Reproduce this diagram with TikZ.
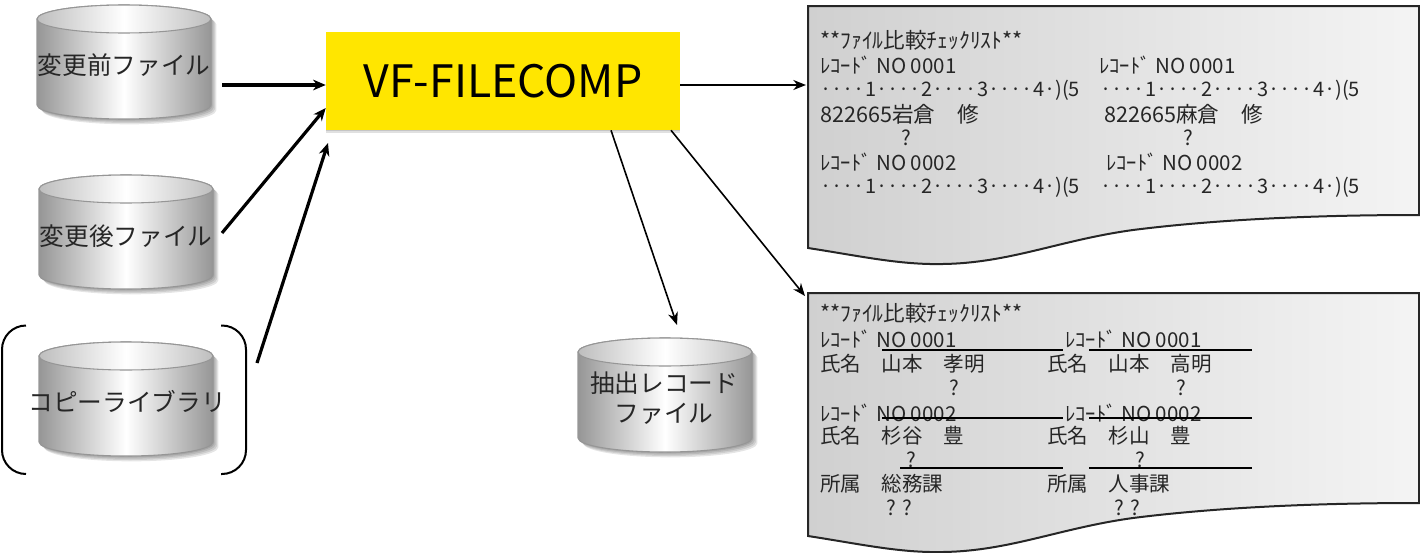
\documentclass[tikz,border=0pt]{standalone}
\usepackage{fontspec}
\setmainfont{Noto Sans CJK JP}
\usetikzlibrary{positioning,shadows,arrows.meta}
\definecolor{boxyellow}{RGB}{255,230,0}
\definecolor{dbdark}{RGB}{150,150,150}
\definecolor{dbtop}{RGB}{190,190,190}
\definecolor{paperdark}{RGB}{208,208,208}
\definecolor{paperlight}{RGB}{244,244,244}
\tikzset{%
  softshadow/.style={
    drop shadow={shadow xshift=0pt,shadow yshift=-#1,fill=black,opacity=0.12}
  },
  dbfile/.pic={
    \foreach \off in {1pt,2pt,3pt,4pt}
      \fill[black,opacity=0.10,xshift=\off,yshift=-\off]
        (-87,-43) -- (-87,43)
        arc[start angle=180,end angle=360,x radius=65.25pt,y radius=10.5pt]
        -- (87,-43)
        arc[start angle=0,end angle=180,x radius=65.25pt,y radius=10.5pt] -- cycle;
    \shade[left color=dbdark,right color=dbdark,middle color=white,draw=dbdark,line width=0.8pt]
      (-87,-43) -- (-87,43)
      arc[start angle=180,end angle=360,x radius=65.25pt,y radius=10.5pt]
      -- (87,-43)
      arc[start angle=0,end angle=180,x radius=65.25pt,y radius=10.5pt] -- cycle;
    \shade[left color=dbtop,right color=dbtop,middle color=white,draw=dbdark,line width=0.8pt]
      (0,-43) ellipse (65.25pt and 10.5pt);
  },
  dblabel/.style={
    align=center,
    inner sep=0pt,
    text=black!85,
    font=\fontsize{18.5pt}{23pt}\selectfont
  },
  listtext/.style={
    anchor=west,
    inner sep=0pt,
    text=black!85,
    font=\fontsize{15.4pt}{18pt}\selectfont
  },
  listwide/.style={
    listtext,
    font=\fontsize{16.2pt}{18pt}\selectfont
  },
  listscale/.style={
    listtext,
    font=\fontsize{15pt}{18pt}\selectfont
  },
  paper/.style={
    draw=black!85,
    line width=1.5pt,
    left color=paperdark,
    right color=paperlight
  },
  feedarrow/.style={-{Stealth[length=9.5pt,width=8pt,inset=3pt]},line width=2.4pt},
  outarrow/.style={-{Stealth[length=9.5pt,width=7.5pt,inset=3pt]},line width=1.2pt},
  bracket/.style={line width=1.5pt,rounded corners=18pt},
  underrule/.style={line width=1.2pt}
}

\begin{document}
\begin{tikzpicture}[x=0.75pt, y=-0.75pt]
\useasboundingbox (0,0) rectangle (1420,553);

% input and output files
\pic (dbbefore) at (124,62) {dbfile};
\pic (dbafter) at (126,232) {dbfile};
\pic (dbcopy) at (126,399) {dbfile};
\pic (dbextract) at (665,395) {dbfile};
\node[dblabel] (lbbefore) at (124,65) {変更前ファイル};
\node[dblabel] (lbafter) at (126,236) {変更後ファイル};
\node[dblabel] (lbcopy) at (127,401) {コピーライブラリ};
\node[dblabel] (lbextract) at (664,398) {抽出レコード\\ファイル};

% brackets round the copy library
\draw[bracket] (26,325.5) -- (2,325.5) -- (2,474) -- (26,474);
\draw[bracket] (221,325.5) -- (246,325.5) -- (246,474) -- (221,474);

% the program
\node[fill=boxyellow,minimum width=265.5pt,minimum height=73.5pt,inner sep=0pt,
  softshadow=1pt,softshadow=2pt,
  font=\fontsize{33.5pt}{36pt}\selectfont] (filecomp) at (503,81) {VF-FILECOMP};

% paper sheets
\draw[paper] (808,6) -- (1419,6) -- (1419,215)
  .. controls (1320,215) and (1220,219) .. (1133,230)
  .. controls (1060,240) and (1010,263) .. (943,264)
  .. controls (900,265) and (860,256) .. (808,248) -- cycle;
\draw[paper] (808,293) -- (1419,293) -- (1419,503)
  .. controls (1320,503) and (1220,507) .. (1133,518)
  .. controls (1060,528) and (1010,551) .. (943,552)
  .. controls (900,553) and (860,544) .. (808,536) -- cycle;

\coordinate (outbefore) at (222,85);
\coordinate (outafter) at (222,233);
\coordinate (outcopy) at (257,363);
\coordinate (incopy) at (328,143);
\coordinate (inextract) at (677,325);
\coordinate (insheetone) at (806,85);
\coordinate (insheettwo) at (805,296);

\draw[feedarrow] (outbefore) -- (outbefore -| filecomp.west);
\draw[feedarrow] (outafter) -- ([yshift=-20.25pt]filecomp.west);
\draw[feedarrow] (outcopy) -- (incopy);
\draw[outarrow] (filecomp.east |- insheetone) -- (insheetone);
\draw[outarrow] ([xshift=81pt]filecomp.south) -- (inextract);
\draw[outarrow] ([xshift=126pt]filecomp.south) -- (insheettwo);

% first list
\node[listwide] (atitle) at (820,40) {**ﾌｧｲﾙ比較ﾁｪｯｸﾘｽﾄ**};
\node[listtext] (arecl) at (820,65) {ﾚｺｰﾄﾞ NO 0001};
\node[listtext] (arecr) at (1099,65) {ﾚｺｰﾄﾞ NO 0001};
\node[listscale] (arulel) at (820,90) {····1····2····3····4·)(5};
\node[listscale] (aruler) at (1100,90) {····1····2····3····4·)(5};
\node[listwide] (adatal) at (820,114) {822665岩倉　修};
\node[listwide] (adatar) at (1104,114) {822665麻倉　修};
\node[listtext] (amarkl) at (901,138) {?};
\node[listtext] (amarkr) at (1183,138) {?};
\node[listtext] (brecl) at (820,162) {ﾚｺｰﾄﾞ NO 0002};
\node[listtext] (brecr) at (1106,162) {ﾚｺｰﾄﾞ NO 0002};
\node[listscale] (brulel) at (820,187) {····1····2····3····4·)(5};
\node[listscale] (bruler) at (1100,187) {····1····2····3····4·)(5};

% second list
\node[listwide] (ctitle) at (820,313) {**ﾌｧｲﾙ比較ﾁｪｯｸﾘｽﾄ**};
\node[listtext] (crecl) at (820,339) {ﾚｺｰﾄﾞ NO 0001};
\node[listtext] (crecr) at (1065,339) {ﾚｺｰﾄﾞ NO 0001};
\node[listtext] (cnamel) at (820,364) {氏名　山本　孝明};
\node[listtext] (cnamer) at (1047,364) {氏名　山本　高明};
\node[listtext] (cmarkl) at (949,388) {?};
\node[listtext] (cmarkr) at (1176,388) {?};
\node[listtext] (drecl) at (820,413) {ﾚｺｰﾄﾞ NO 0002};
\node[listtext] (drecr) at (1065,413) {ﾚｺｰﾄﾞ NO 0002};
\node[listtext] (dnamel) at (820,436) {氏名　杉谷　豊};
\node[listtext] (dnamer) at (1047,436) {氏名　杉山　豊};
\node[listtext] (dmarkl) at (906,460) {?};
\node[listtext] (dmarkr) at (1135,460) {?};
\node[listtext] (dpostl) at (820,484) {所属　総務課};
\node[listtext] (dpostr) at (1047,484) {所属　人事課};
\node[listtext] (dqmarkl) at (886,508) {? ?};
\node[listtext] (dqmarkr) at (1114,508) {? ?};

% rules through the second list
\draw[underrule] (882,350) -- (1063,350);
\draw[underrule] (1089,350) -- (1252,350);
\draw[underrule] (882,418) -- (1063,418);
\draw[underrule] (1089,418) -- (1252,418);
\draw[underrule] (900,468) -- (1063,468);
\draw[underrule] (1089,468) -- (1252,468);
\end{tikzpicture}
\end{document}
